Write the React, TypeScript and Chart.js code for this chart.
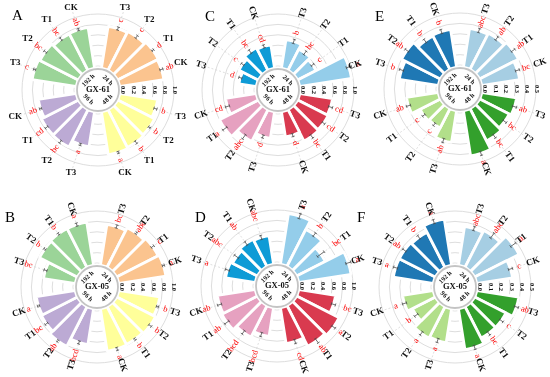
import React, { useEffect, useRef } from 'react';
import { Chart, registerables } from 'chart.js';

Chart.register(...registerables);

// ---------- data ----------
const groupLabels = ['24 h', '48 h', '96 h', '192 h'];
const treatmentLabels = ['T3', 'T2', 'T1', 'CK'];
const ticksFull = [0, 0.2, 0.4, 0.6, 0.8, 1.0];
const ticksHalf = [0, 0.1, 0.2, 0.3, 0.4, 0.5];

// order inside every array: 24 h (T3,T2,T1,CK), 48 h (...), 96 h (...), 192 h (...)
const valuesA = [0.78, 0.80, 0.84, 0.82, 0.70, 0.76, 0.78, 0.80, 0.64, 0.77, 0.76, 0.70, 0.82, 0.79, 0.75, 0.76];
const errorsA = [0.03, 0.03, 0.02, 0.03, 0.03, 0.02, 0.03, 0.02, 0.02, 0.03, 0.03, 0.02, 0.02, 0.03, 0.03, 0.02];
const lettersA = ['c', 'c', 'd', 'ab', 'b', 'b', 'b', 'a', 'a', 'bc', 'cd', 'ab', 'c', 'bc', 'bc', 'ab'];

const valuesB = [0.76, 0.82, 0.86, 0.88, 0.76, 0.80, 0.78, 0.79, 0.66, 0.82, 0.74, 0.72, 0.58, 0.78, 0.80, 0.80];
const errorsB = [0.03, 0.02, 0.03, 0.02, 0.02, 0.03, 0.02, 0.03, 0.03, 0.02, 0.03, 0.02, 0.03, 0.02, 0.02, 0.03];
const lettersB = ['bc', 'abc', 'c', 'a', 'b', 'b', 'b', 'a', 'bcd', 'ab', 'bc', 'a', 'bc', 'b', 'b', 'a'];

const valuesC = [0.52, 0.42, 0.36, 0.97, 0.60, 0.62, 0.64, 0.45, 0.48, 0.65, 0.80, 0.56, 0.30, 0.38, 0.45, 0.42];
const errorsC = [0.04, 0.04, 0.03, 0.05, 0.04, 0.03, 0.04, 0.03, 0.03, 0.05, 0.05, 0.04, 0.03, 0.03, 0.04, 0.03];
const lettersC = ['b', 'bc', 'c', 'a', 'cd', 'cd', 'bc', 'd', 'd', 'abc', 'a', 'cd', 'd', 'c', 'bc', 'cd'];

const valuesD = [0.95, 0.76, 0.58, 0.98, 0.68, 0.88, 0.84, 0.66, 0.52, 0.64, 0.73, 0.70, 0.54, 0.50, 0.55, 0.52];
const errorsD = [0.05, 0.04, 0.08, 0.05, 0.04, 0.04, 0.05, 0.04, 0.04, 0.04, 0.05, 0.04, 0.04, 0.05, 0.04, 0.04];
const lettersD = ['a', 'b', 'bc', 'a', 'bc', 'a', 'ab', 'cd', 'bcd', 'bcd', 'ab', 'ab', 'a', 'abc', 'ab', 'abc'];

const valuesE = [0.36, 0.37, 0.40, 0.35, 0.32, 0.30, 0.33, 0.42, 0.29, 0.19, 0.20, 0.29, 0.36, 0.40, 0.34, 0.35];
const errorsE = [0.02, 0.02, 0.02, 0.02, 0.02, 0.02, 0.02, 0.02, 0.02, 0.015, 0.015, 0.02, 0.02, 0.02, 0.02, 0.02];
const lettersE = ['abc', 'ab', 'ab', 'bc', 'ab', 'bc', 'bc', 'a', 'ab', 'c', 'c', 'ab', 'b', 'ab', 'b', 'b'];

const valuesF = [0.36, 0.38, 0.46, 0.33, 0.39, 0.32, 0.32, 0.38, 0.31, 0.32, 0.23, 0.28, 0.37, 0.37, 0.36, 0.43];
const errorsF = [0.02, 0.03, 0.03, 0.02, 0.02, 0.02, 0.02, 0.02, 0.02, 0.02, 0.02, 0.02, 0.02, 0.02, 0.02, 0.02];
const lettersF = ['abc', 'abc', 'a', 'c', 'ab', 'c', 'bc', 'a', 'a', 'a', 'b', 'a', 'a', 'ab', 'b', 'a'];

// colours per group: 24 h, 48 h, 96 h, 192 h
const coloursAccent = ['#fbc48f', '#ffff9a', '#bcaad4', '#9bd498'];
const coloursRed = ['#94cdea', '#d93a4f', '#e6a1c0', '#0e9bd6'];
const coloursPaired = ['#a6cee3', '#33a02c', '#b2df8a', '#1f78b4'];

type PanelDef = {
  tag: string; strain: string; cx: number; cy: number;
  values: number[]; errors: number[]; letters: string[];
  ticks: number[]; colours: string[]; flatLabels: boolean;
  labelR: number; letterMin: number;
  tagX: number; tagY: number;
};

const panels: PanelDef[] = [
  { tag: 'A', strain: 'GX-61', cx: 98, cy: 90, values: valuesA, errors: errorsA, letters: lettersA, ticks: ticksFull, colours: coloursAccent, flatLabels: true, labelR: 87, letterMin: 0, tagX: 12, tagY: 8 },
  { tag: 'C', strain: 'GX-61', cx: 278, cy: 90, values: valuesC, errors: errorsC, letters: lettersC, ticks: ticksFull, colours: coloursRed, flatLabels: false, labelR: 81, letterMin: 0, tagX: 205, tagY: 9 },
  { tag: 'E', strain: 'GX-61', cx: 460, cy: 89, values: valuesE, errors: errorsE, letters: lettersE, ticks: ticksHalf, colours: coloursPaired, flatLabels: false, labelR: 84, letterMin: 0, tagX: 375, tagY: 9 },
  { tag: 'B', strain: 'GX-05', cx: 97, cy: 287, values: valuesB, errors: errorsB, letters: lettersB, ticks: ticksFull, colours: coloursAccent, flatLabels: false, labelR: 82, letterMin: 72, tagX: 5, tagY: 210 },
  { tag: 'D', strain: 'GX-05', cx: 277, cy: 286, values: valuesD, errors: errorsD, letters: lettersD, ticks: ticksFull, colours: coloursRed, flatLabels: false, labelR: 85, letterMin: 74, tagX: 195, tagY: 210 },
  { tag: 'F', strain: 'GX-05', cx: 455, cy: 287, values: valuesF, errors: errorsF, letters: lettersF, ticks: ticksHalf, colours: coloursPaired, flatLabels: false, labelR: 82, letterMin: 0, tagX: 357, tagY: 210 },
];

const SIZE = 200;
const OUTER = 76;
const SERIF = "'Liberation Serif', 'Times New Roman', serif";

const groupStart = [0, 90, 180, 270];
const barAngle = (g: number, t: number) => groupStart[g] + 18 * (t + 1); // degrees clockwise from top

function radialRotation(theta: number) {
  return theta < 180 ? theta - 90 : theta - 270;
}

function makePlugin(p: PanelDef) {
  return {
    id: 'decor' + p.tag,
    beforeDatasetsDraw(chart: any) {
      const s = chart.scales.r;
      const ctx = chart.ctx as CanvasRenderingContext2D;
      const cx = s.xCenter, cy = s.yCenter;
      const r0 = s.getDistanceFromCenterForValue(0);
      const r1 = s.drawingArea + 6;
      ctx.save();
      ctx.strokeStyle = '#c9c9c9';
      ctx.lineWidth = 0.6;
      ctx.setLineDash([2, 2]);
      for (let g = 0; g < 4; g++) {
        for (let t = 0; t < 4; t++) {
          const a = (barAngle(g, t) * Math.PI) / 180;
          ctx.beginPath();
          ctx.moveTo(cx + r0 * Math.sin(a), cy - r0 * Math.cos(a));
          ctx.lineTo(cx + r1 * Math.sin(a), cy - r1 * Math.cos(a));
          ctx.stroke();
        }
      }
      ctx.restore();
    },
    afterDatasetsDraw(chart: any) {
      const s = chart.scales.r;
      const ctx = chart.ctx as CanvasRenderingContext2D;
      const cx = s.xCenter, cy = s.yCenter;
      const r0 = s.getDistanceFromCenterForValue(0);
      ctx.save();
      // hollow centre
      ctx.fillStyle = '#ffffff';
      ctx.beginPath();
      ctx.arc(cx, cy, r0 - 0.5, 0, Math.PI * 2);
      ctx.fill();
      ctx.strokeStyle = '#c4c4c4';
      ctx.lineWidth = 1.8;
      ctx.beginPath();
      ctx.arc(cx, cy, 21, 0, Math.PI * 2);
      ctx.stroke();

      // strain name
      ctx.fillStyle = '#111';
      ctx.textAlign = 'center';
      ctx.textBaseline = 'middle';
      ctx.font = `bold 8.5px ${SERIF}`;
      ctx.fillText(p.strain, cx, cy);

      // group names in the hub
      ctx.font = `bold 6.5px ${SERIF}`;
      [45, 135, 225, 315].forEach((th, g) => {
        const a = (th * Math.PI) / 180;
        const rr = 13.5;
        ctx.save();
        ctx.translate(cx + rr * Math.sin(a), cy - rr * Math.cos(a));
        const rot = th < 90 || th > 270 ? th : th - 180;
        ctx.rotate((rot * Math.PI) / 180);
        ctx.fillText(groupLabels[g], 0, 0);
        ctx.restore();
      });

      // error bars
      ctx.strokeStyle = '#4a4a4a';
      ctx.lineWidth = 0.8;
      for (let g = 0; g < 4; g++) {
        for (let t = 0; t < 4; t++) {
          const i = g * 4 + t;
          const a = (barAngle(g, t) * Math.PI) / 180;
          const lo = s.getDistanceFromCenterForValue(p.values[i] - p.errors[i]);
          const hi = s.getDistanceFromCenterForValue(p.values[i] + p.errors[i]);
          const sx = Math.sin(a), sy = -Math.cos(a);
          const px = Math.cos(a), py = Math.sin(a);
          ctx.beginPath();
          ctx.moveTo(cx + lo * sx, cy + lo * sy);
          ctx.lineTo(cx + hi * sx, cy + hi * sy);
          [lo, hi].forEach((rr) => {
            ctx.moveTo(cx + rr * sx - 1.6 * px, cy + rr * sy - 1.6 * py);
            ctx.lineTo(cx + rr * sx + 1.6 * px, cy + rr * sy + 1.6 * py);
          });
          ctx.stroke();
        }
      }

      // significance letters
      ctx.fillStyle = '#ff0000';
      ctx.font = `8.5px ${SERIF}`;
      for (let g = 0; g < 4; g++) {
        for (let t = 0; t < 4; t++) {
          const i = g * 4 + t;
          const th = barAngle(g, t);
          const a = (th * Math.PI) / 180;
          const tip = s.getDistanceFromCenterForValue(p.values[i] + p.errors[i]) + 7;
          const rr = Math.max(tip, p.letterMin);
          ctx.save();
          ctx.translate(cx + rr * Math.sin(a), cy - rr * Math.cos(a));
          ctx.rotate((radialRotation(th) * Math.PI) / 180);
          ctx.fillText(p.letters[i], 0, 0);
          ctx.restore();
        }
      }

      // treatment labels
      ctx.fillStyle = '#111';
      ctx.font = `bold 9px ${SERIF}`;
      for (let g = 0; g < 4; g++) {
        for (let t = 0; t < 4; t++) {
          const th = barAngle(g, t);
          const a = (th * Math.PI) / 180;
          ctx.save();
          ctx.translate(cx + p.labelR * Math.sin(a), cy - p.labelR * Math.cos(a));
          if (!p.flatLabels) ctx.rotate((radialRotation(th) * Math.PI) / 180);
          ctx.fillText(treatmentLabels[t], 0, 0);
          ctx.restore();
        }
      }

      // radial tick labels along the right-hand gap
      ctx.font = `bold 6.5px ${SERIF}`;
      p.ticks.forEach((v) => {
        const d = s.getDistanceFromCenterForValue(v);
        ctx.save();
        ctx.translate(cx + d + 1, cy);
        ctx.rotate(Math.PI / 2);
        ctx.fillText(v.toFixed(1), 0, 0);
        ctx.restore();
      });
      ctx.restore();
    },
  };
}

function Panel({ p }: { p: PanelDef }) {
  const ref = useRef<HTMLCanvasElement>(null);
  useEffect(() => {
    const canvas = ref.current;
    if (!canvas) return;
    const maxV = p.ticks[p.ticks.length - 1];
    const minV = -0.46 * maxV;
    const data: number[] = [];
    const bg: string[] = [];
    const bw: number[] = [];
    const ang: number[] = [];
    const labels: string[] = [];
    const pushGap = (a: number) => {
      data.push(minV);
      bg.push('rgba(0,0,0,0)');
      bw.push(0);
      ang.push(a);
      labels.push('');
    };
    pushGap(9);
    [1, 2, 3, 0].forEach((g, k) => {
      for (let t = 0; t < 4; t++) {
        data.push(p.values[g * 4 + t]);
        bg.push(p.colours[g]);
        bw.push(2.8);
        ang.push(18);
        labels.push(groupLabels[g] + ' ' + treatmentLabels[t]);
      }
      pushGap(k < 3 ? 18 : 9);
    });
    const pad = SIZE / 2 - OUTER;
    const chart = new Chart(canvas, {
      type: 'polarArea',
      data: {
        labels,
        datasets: [
          {
            data,
            backgroundColor: bg,
            borderColor: '#ffffff',
            borderWidth: bw,
            angle: ang,
          } as any,
        ],
      },
      options: {
        responsive: false,
        animation: false,
        events: [],
        layout: { padding: pad },
        plugins: { legend: { display: false }, tooltip: { enabled: false } },
        scales: {
          r: {
            min: minV,
            max: maxV,
            startAngle: 90,
            afterBuildTicks: (scale: any) => {
              scale.ticks = p.ticks.map((v) => ({ value: v }));
            },
            ticks: { display: false },
            grid: { circular: true, color: '#d4d4d4', lineWidth: 0.8 },
            angleLines: { display: false },
            pointLabels: { display: false },
          } as any,
        },
      },
      plugins: [makePlugin(p)],
    });
    return () => chart.destroy();
  }, [p]);
  return (
    <canvas
      ref={ref}
      width={SIZE}
      height={SIZE}
      style={{ position: 'absolute', left: p.cx - SIZE / 2, top: p.cy - SIZE / 2, width: SIZE, height: SIZE }}
    />
  );
}

export default function App() {
  return (
    <div style={{ position: 'fixed', left: 0, top: 0, width: 550, height: 377, background: '#fff', overflow: 'hidden' }}>
      {panels.map((p) => (
        <Panel key={p.tag} p={p} />
      ))}
      {panels.map((p) => (
        <div
          key={'t' + p.tag}
          style={{ position: 'absolute', left: p.tagX, top: p.tagY, fontFamily: SERIF, fontSize: 15, lineHeight: '15px', color: '#000' }}
        >
          {p.tag}
        </div>
      ))}
    </div>
  );
}
